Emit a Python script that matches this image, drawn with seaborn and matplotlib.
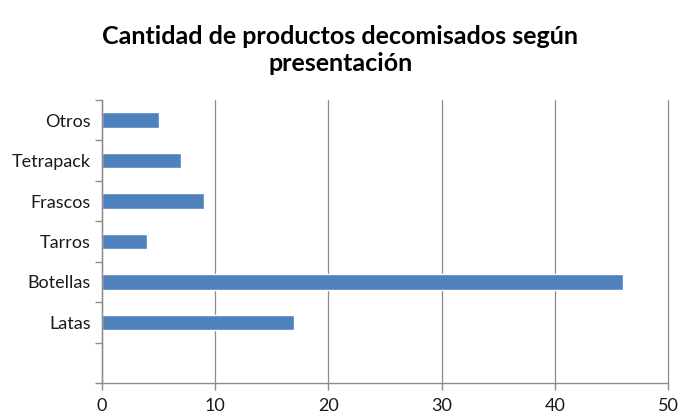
import numpy as np
import pandas as pd
import matplotlib
matplotlib.use('Agg')
import matplotlib.pyplot as plt
import seaborn as sns

# Datos (de arriba hacia abajo)
categorias = ['Otros', 'Tetrapack', 'Frascos', 'Tarros', 'Botellas', 'Latas']
cantidades = [5, 7, 9, 4, 46, 17]
x_ticks = [0, 10, 20, 30, 40, 50]

TITULO = 'Cantidad de productos decomisados según\npresentación'
COLOR_BARRA = '#4F81BD'
COLOR_EJE = '#8C8C8C'

df = pd.DataFrame({'categoria': categorias, 'cantidad': cantidades})

sns.set_style('white')
plt.rcParams['font.family'] = ['Lato', 'DejaVu Sans']

fig = plt.figure(figsize=(6.81, 4.18), dpi=100)
ax = fig.add_axes([0.1498, 0.0837, 0.8312, 0.6773])

sns.barplot(data=df, x='cantidad', y='categoria', order=categorias,
            color=COLOR_BARRA, saturation=1, width=0.38, ax=ax)

# una ranura vacia bajo "Latas", como en el original
n = len(categorias)
ax.set_ylim(n + 0.5, -0.5)
ax.set_xlim(x_ticks[0], x_ticks[-1])
ax.set_xticks(x_ticks)
ax.set_yticks(np.arange(-0.5, n + 1, 1.0), minor=True)

ax.grid(axis='x', color=COLOR_EJE, linewidth=0.9)
for linea in ax.get_xgridlines():
    linea.set_clip_on(False)
ax.set_axisbelow(True)
for lado in ['top', 'right']:
    ax.spines[lado].set_visible(False)
for lado in ['left', 'bottom']:
    ax.spines[lado].set_color(COLOR_EJE)
    ax.spines[lado].set_linewidth(1.0)

ax.tick_params(axis='y', which='major', left=False, length=0, pad=8,
               labelsize=13, labelcolor='#1a1a1a')
ax.tick_params(axis='y', which='minor', left=True, length=5, width=1,
               color=COLOR_EJE, direction='out')
ax.tick_params(axis='x', which='major', bottom=True, length=5, width=1,
               color=COLOR_EJE, direction='out', pad=6, labelsize=13,
               labelcolor='#1a1a1a')
ax.set_xlabel('')
ax.set_ylabel('')

fig.suptitle(TITULO, x=0.5, y=0.94, fontsize=18, fontweight='bold',
             linespacing=1.2, color='#000000')

fig.savefig('out.png', dpi=100)
